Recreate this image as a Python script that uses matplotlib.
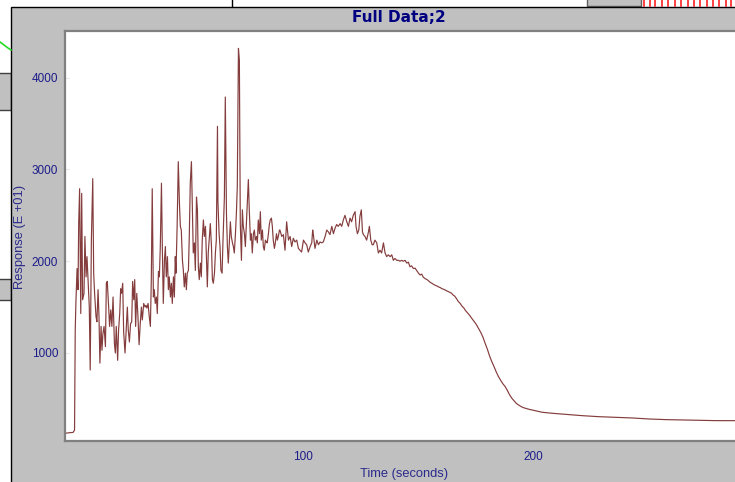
import matplotlib
matplotlib.use("Agg")
import matplotlib.pyplot as plt
from matplotlib.patches import Rectangle

plt.rcParams["font.family"] = ["Liberation Sans", "DejaVu Sans"]

# (time in s, response in E+01 units)
rise_noise = [
    (-3.0, 125), (-1.5, 130), (0.5, 135), (1.1, 160), (1.4, 1250), (1.7, 1560),
    (2.2, 1920), (2.6, 1690), (2.9, 2410), (3.3, 2790), (3.8, 1430), (4.2, 2740),
    (4.6, 1580), (5.2, 1650), (5.6, 2270), (6.1, 1830), (6.5, 2050), (6.9, 1830),
    (7.5, 1500), (7.9, 815), (8.4, 2230), (9.0, 2900), (9.4, 1870), (9.8, 1650),
    (10.4, 1400), (10.8, 1340), (11.3, 1690), (11.7, 1400), (12.1, 890), (12.6, 1290),
    (13.0, 1030), (13.4, 1210), (13.9, 1290), (14.5, 1070), (14.9, 1760), (15.3, 1780),
    (15.9, 1500), (16.3, 1290), (16.8, 1470), (17.3, 1290), (17.8, 1610), (18.4, 1100),
    (18.8, 1000), (19.2, 1290), (19.8, 920), (20.2, 1250), (20.7, 1430), (21.1, 1700),
    (21.5, 1650), (22.0, 1760), (22.4, 1230), (23.0, 1000), (23.4, 1210), (24.0, 1500),
    (24.4, 1250), (24.9, 1120), (25.4, 1320), (25.9, 1340), (26.3, 1780), (26.8, 1580),
    (27.2, 1800), (27.6, 1290), (28.1, 1650), (28.6, 1400), (29.1, 1090), (29.6, 1320),
    (30.1, 1500), (30.5, 1360), (31.1, 1540), (31.7, 1500), (32.1, 1520), (32.5, 1490),
    (33.0, 1540), (33.5, 1400), (34.0, 1290), (34.4, 1800), (34.8, 2790), (35.3, 1610),
    (35.7, 1690), (36.1, 1540), (36.6, 1610), (37.0, 1430), (37.5, 1890), (37.9, 1830),
    (38.3, 2160), (38.8, 2850), (39.2, 2120), (39.6, 1540), (40.1, 2010), (40.5, 2160),
    (40.9, 1830), (41.4, 2050), (41.8, 1690), (42.2, 1830), (42.7, 1610), (43.1, 1760),
    (43.5, 1540), (44.0, 1830), (44.4, 1610), (44.8, 2050),
]

spikes = [
    (45.1, 1870), (45.6, 2380), (46.1, 3085), (46.6, 2630), (47.0, 2380), (47.4, 2340),
    (47.9, 2010), (48.3, 1900), (48.7, 1720), (49.2, 1870), (49.6, 1690), (50.0, 1870),
    (50.5, 1900), (50.9, 2300), (51.3, 2850), (51.8, 3085), (52.2, 2560), (52.6, 2090),
    (53.1, 2200), (53.5, 1900), (54.0, 2700), (54.4, 2560), (54.8, 1940), (55.2, 1800),
    (55.7, 1980), (56.1, 1830), (56.5, 2230), (57.0, 2450), (57.4, 2270), (57.9, 2380),
    (58.3, 2050), (58.7, 1720), (59.1, 2090), (59.6, 2270), (60.0, 2410), (60.5, 2160),
    (60.9, 1800), (61.3, 1760), (61.8, 1870), (62.2, 2090), (62.6, 2230), (63.1, 3470),
    (63.3, 2650), (63.8, 2300), (64.2, 2160), (64.6, 1900), (65.1, 1870), (65.5, 2230),
    (66.1, 2700), (66.5, 3790), (67.0, 2520), (67.4, 2160), (67.8, 1980), (68.3, 2230),
    (68.7, 2430), (69.1, 2270), (69.6, 2200), (70.0, 2160), (70.4, 2090), (70.9, 2300),
    (71.3, 2520), (71.7, 2810), (72.2, 4320), (72.6, 4190), (73.0, 2410), (73.5, 2010),
    (73.9, 2560), (74.3, 2380), (74.8, 2300), (75.2, 2160), (75.6, 2380), (76.1, 2630),
    (76.5, 2890), (76.9, 2560), (77.4, 2230), (77.8, 2300), (78.2, 2090), (78.7, 2300),
    (79.1, 2340), (79.5, 2230), (80.0, 2270), (80.4, 2200), (80.8, 2450), (81.3, 2300),
    (81.7, 2540), (82.1, 2230), (82.6, 2340), (83.0, 2160), (83.4, 2120), (83.9, 2230),
    (84.3, 2210), (84.7, 2200), (85.2, 2300), (85.6, 2400), (86.0, 2450), (86.5, 2470),
    (86.9, 2380), (87.3, 2230), (87.8, 2140), (88.2, 2200), (88.7, 2300), (89.1, 2230),
    (89.5, 2270), (90.0, 2340),
]

plateau = [
    (90.2, 2340), (91.0, 2270), (91.7, 2290), (92.4, 2120), (93.1, 2430), (93.9, 2230),
    (94.6, 2270), (95.3, 2160), (96.0, 2250), (96.7, 2210), (97.5, 2230), (98.2, 2140),
    (98.9, 2120), (99.6, 2100), (100.4, 2230), (101.1, 2200), (101.8, 2180), (102.5, 2100),
    (103.3, 2160), (104.0, 2200), (104.4, 2340), (104.7, 2290), (105.4, 2140), (106.2, 2230),
    (106.9, 2180), (107.6, 2210), (108.3, 2200), (109.0, 2210), (109.8, 2270), (110.5, 2340),
    (111.2, 2320), (111.9, 2290), (112.7, 2380), (113.4, 2300), (114.1, 2360), (114.8, 2400),
    (115.5, 2380), (116.3, 2410), (117.0, 2380), (117.7, 2450), (118.4, 2500), (119.2, 2430),
    (119.9, 2380), (120.6, 2470), (121.3, 2430), (122.0, 2500), (122.8, 2540), (123.2, 2380),
    (123.8, 2300), (124.4, 2340), (124.9, 2490), (125.5, 2560), (126.0, 2320), (126.4, 2290),
    (127.1, 2270), (127.8, 2230), (128.6, 2320), (129.0, 2380), (129.6, 2230), (130.2, 2180),
    (130.7, 2180), (131.4, 2230), (132.2, 2200), (132.9, 2090), (133.6, 2120), (134.3, 2090),
    (135.1, 2200), (135.8, 2090), (136.5, 2050), (137.2, 2070), (138.0, 2050), (138.7, 2070),
    (139.4, 2010), (140.1, 2030), (140.9, 2010), (141.6, 2010), (142.3, 2000), (143.0, 2010),
    (143.7, 2000), (144.5, 2010), (145.2, 1980), (145.9, 1990), (146.6, 1940), (147.3, 1950),
    (148.1, 1920), (148.8, 1925), (149.5, 1900),
]

decay = [
    (150.3, 1870), (151.0, 1850), (151.7, 1860), (152.4, 1825), (153.2, 1810),
    (154.0, 1800), (154.7, 1785), (155.4, 1770), (156.1, 1760), (157.0, 1745),
    (157.8, 1735), (158.5, 1728), (159.0, 1720), (159.8, 1712), (160.5, 1700),
    (161.2, 1695), (161.8, 1687), (162.6, 1676), (163.3, 1668), (164.0, 1660),
    (164.7, 1650), (165.4, 1630), (166.0, 1620), (166.8, 1592), (167.6, 1560),
    (168.4, 1540), (169.2, 1510), (170.0, 1490), (170.5, 1469), (171.5, 1440),
    (172.5, 1410), (173.4, 1378), (174.4, 1345), (175.4, 1310), (176.3, 1270),
    (177.3, 1225), (178.3, 1170), (179.2, 1106), (180.2, 1040), (181.1, 970),
    (182.1, 906), (183.1, 850), (184.0, 795), (185.0, 743), (186.0, 700),
    (186.9, 665), (187.9, 634), (188.9, 590), (189.8, 545), (190.8, 507),
    (191.8, 478), (192.7, 452), (193.7, 434), (194.7, 418), (195.6, 406),
    (196.6, 398), (198.0, 388), (199.4, 380), (201.5, 368),
]

tail = [
    (204.0, 354), (208.3, 343), (214.1, 332), (221.4, 317), (228.6, 306),
    (235.8, 299), (243.0, 292), (250.3, 281), (257.5, 274), (264.7, 270),
    (272.0, 267), (279.2, 263), (286.4, 263), (290.0, 262),
]

x_ticks = [100, 200]
y_ticks = [1000, 2000, 3000, 4000]
title = "Full Data;2"
x_label = "Time (seconds)"
y_label = "Response (E +01)"

trace = rise_noise + spikes + plateau + decay + tail
time_s = [p[0] for p in trace]
response = [p[1] for p in trace]

navy = "#1c1c8a"
fig = plt.figure(figsize=(7.35, 4.82), dpi=100)

# screen background in pixel units
bg = fig.add_axes([0, 0, 1, 1])
bg.set_xlim(0, 735)
bg.set_ylim(482, 0)
bg.axis("off")
bg.add_patch(Rectangle((-5, 73), 16, 37, facecolor="#c0c0c0", edgecolor="#404040", lw=1))
bg.add_patch(Rectangle((-5, 279), 16, 21, facecolor="#c0c0c0", edgecolor="#404040", lw=1))
bg.plot([0, 4, 8, 11], [42, 45, 48, 50], color="#22dd22", lw=1.2)
bg.plot([232.5, 232.5], [0, 6], color="black", lw=1)
bg.add_patch(Rectangle((587, -3), 54, 9, facecolor="#c0c0c0", edgecolor="#606060", lw=1))
for xr in [644, 650, 655, 662, 668, 675, 681, 688, 694, 700, 707, 713, 719, 726, 731]:
    bg.plot([xr, xr], [0, 5.5], color="#ff2020", lw=1.2)
bg.add_patch(Rectangle((11.5, 6.5), 740, 490, facecolor="#c0c0c0", edgecolor="black", lw=1))
bg.text(398.5, 18, title, ha="center", va="center", color="#000080",
        fontsize=11, family="DejaVu Sans", fontweight="bold")
bg.text(404.5, 474, x_label, ha="center", va="center", color="#2a2a8c", fontsize=9.3)
bg.text(20, 237, y_label, ha="center", va="center", rotation=90,
        color="#2a2a8c", fontsize=9.3)

ax = fig.add_axes([65 / 735, 41 / 482, 670 / 735, 410 / 482])
ax.set_facecolor("white")
ax.plot(time_s, response, color="#843c3c", lw=0.85)
ax.set_xlim(-3.04, 287.6)
ax.set_ylim(41, 4509)
ax.set_xticks(x_ticks)
ax.set_yticks(y_ticks)
ax.tick_params(axis="x", length=0, pad=7.5, labelsize=8.5, labelcolor=navy)
ax.tick_params(axis="y", direction="in", length=3, color="#e8e8e8",
               pad=5, labelsize=8.5, labelcolor=navy)
for side in ["left", "top", "bottom"]:
    ax.spines[side].set_color("#808080")
    ax.spines[side].set_linewidth(1.6)
ax.spines["right"].set_visible(False)

fig.savefig("out.png", dpi=100)
